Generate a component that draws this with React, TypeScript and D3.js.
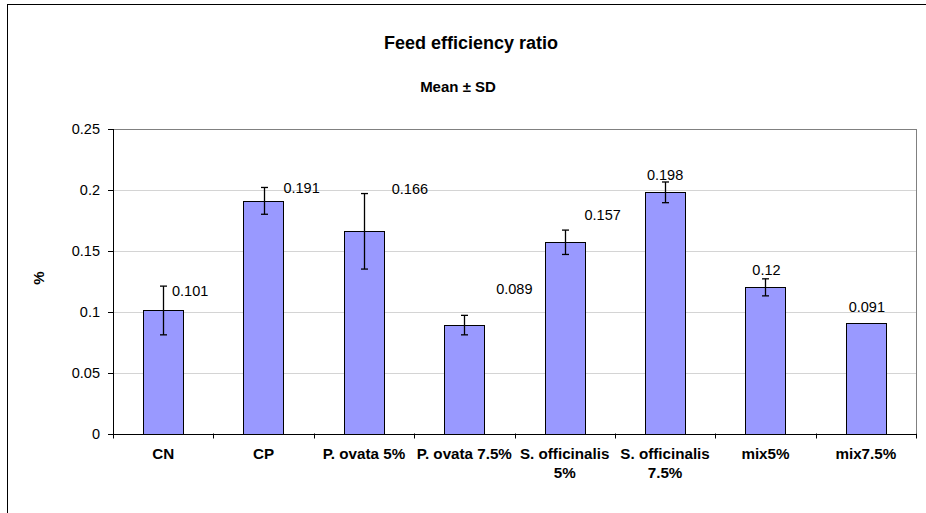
import React from "react";
import * as d3 from "d3";

const categories: string[][] = [
  ["CN"],
  ["CP"],
  ["P. ovata 5%"],
  ["P. ovata 7.5%"],
  ["S. officinalis", "5%"],
  ["S. officinalis", "7.5%"],
  ["mix5%"],
  ["mix7.5%"],
];
const means = [0.101, 0.191, 0.166, 0.089, 0.157, 0.198, 0.12, 0.091];
const sds = [0.02, 0.011, 0.031, 0.008, 0.01, 0.0085, 0.007, 0];
const valueLabels = ["0.101", "0.191", "0.166", "0.089", "0.157", "0.198", "0.12", "0.091"];
const yTicks = [0, 0.05, 0.1, 0.15, 0.2, 0.25];
// label offsets relative to bar center (px) and to the value position
const labelDx = [27, 38, 46, 50, 38, 0, 1, 1];
const labelDy = [-19, -13, -42, -36, -27, -17, -17, -16];

const W = 926;
const H = 513;
const plot = { left: 113, right: 916, top: 129, bottom: 433.5 };

export default function App() {
  const x = d3
    .scaleBand<number>()
    .domain(d3.range(categories.length))
    .range([plot.left, plot.right])
    .paddingInner(0.6)
    .paddingOuter(0.3);
  const band = d3
    .scaleBand<number>()
    .domain(d3.range(categories.length))
    .range([plot.left, plot.right]);
  const y = d3.scaleLinear().domain([0, 0.25]).range([plot.bottom, plot.top]);
  const font = "'Liberation Sans', Arial, sans-serif";

  return (
    <svg
      width={W}
      height={H}
      style={{ position: "absolute", left: 0, top: 0, background: "#fff" }}
      fontFamily={font}
    >
      <rect x={0} y={0} width={W} height={H} fill="#fff" />
      <rect x={7.5} y={4.5} width={1000} height={600} fill="none" stroke="#000" strokeWidth={1} />
      <text x={471} y={49} textAnchor="middle" fontSize={18} fontWeight="bold">
        Feed efficiency ratio
      </text>
      <text x={458} y={92} textAnchor="middle" fontSize={15} fontWeight="bold">
        Mean ± SD
      </text>
      {/* gridlines */}
      {yTicks.map((t) => (
        <line
          key={"g" + t}
          x1={plot.left}
          x2={plot.right}
          y1={Math.round(y(t)) + 0.5}
          y2={Math.round(y(t)) + 0.5}
          stroke={t === 0.25 ? "#808080" : "#d4d4d4"}
          strokeWidth={1}
        />
      ))}
      <line
        x1={plot.right + 0.5}
        x2={plot.right + 0.5}
        y1={plot.top}
        y2={plot.bottom}
        stroke="#808080"
      />
      {/* bars */}
      {means.map((m, i) => (
        <rect
          key={"b" + i}
          x={Math.round(x(i)!) + 0.5}
          y={Math.round(y(m)) + 0.5}
          width={Math.round(x.bandwidth())}
          height={Math.round(y(0)) - Math.round(y(m))}
          fill="#9999ff"
          stroke="#000"
          strokeWidth={1}
        />
      ))}
      {/* error bars */}
      {means.map((m, i) => {
        if (!sds[i]) return null;
        const cx = Math.round(x(i)! + x.bandwidth() / 2) + 0.5;
        const y1 = y(m + sds[i]);
        const y2 = y(m - sds[i]);
        return (
          <g key={"e" + i} stroke="#000" strokeWidth={1.3}>
            <line x1={cx} x2={cx} y1={y1} y2={y2} />
            <line x1={cx - 3.5} x2={cx + 3.5} y1={y1} y2={y1} />
            <line x1={cx - 3.5} x2={cx + 3.5} y1={y2} y2={y2} />
          </g>
        );
      })}
      {/* value labels */}
      {means.map((m, i) => (
        <text
          key={"l" + i}
          x={x(i)! + x.bandwidth() / 2 + labelDx[i]}
          y={y(m) + labelDy[i]}
          textAnchor="middle"
          dominantBaseline="central"
          fontSize={14.5}
          fill="#000"
        >
          {valueLabels[i]}
        </text>
      ))}
      {/* axes */}
      <line x1={plot.left + 0.5} x2={plot.left + 0.5} y1={plot.top} y2={plot.bottom + 0.5} stroke="#000" />
      <line x1={plot.left} x2={plot.right + 1} y1={Math.round(plot.bottom) + 0.5} y2={Math.round(plot.bottom) + 0.5} stroke="#000" />
      {yTicks.map((t) => (
        <g key={"yt" + t}>
          <line
            x1={plot.left - 5}
            x2={plot.left}
            y1={Math.round(y(t)) + 0.5}
            y2={Math.round(y(t)) + 0.5}
            stroke="#000"
          />
          <text
            x={plot.left - 13}
            y={y(t)}
            textAnchor="end"
            dominantBaseline="central"
            fontSize={14.5}
          >
            {d3.format("")(t)}
          </text>
        </g>
      ))}
      {d3.range(categories.length + 1).map((i) => {
        const xx = Math.round(i < categories.length ? band(i)! : plot.right) + 0.5;
        return (
          <line key={"xt" + i} x1={xx} x2={xx} y1={plot.bottom} y2={plot.bottom + 5} stroke="#000" />
        );
      })}
      {categories.map((lines, i) => (
        <text
          key={"c" + i}
          x={band(i)! + band.bandwidth() / 2}
          y={453}
          textAnchor="middle"
          dominantBaseline="central"
          fontSize={15.2}
          fontWeight="bold"
        >
          {lines.map((ln, j) => (
            <tspan key={j} x={band(i)! + band.bandwidth() / 2} dy={j === 0 ? 0 : 19}>
              {ln}
            </tspan>
          ))}
        </text>
      ))}
      <text
        transform="translate(38,278) rotate(-90)"
        textAnchor="middle"
        dominantBaseline="central"
        fontSize={15}
        fontWeight="bold"
      >
        %
      </text>
    </svg>
  );
}
